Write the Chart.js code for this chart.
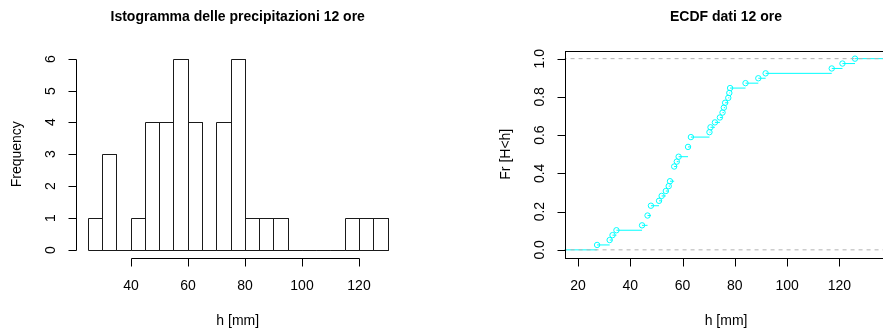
<!DOCTYPE html>
<html lang="it">
<head>
<meta charset="utf-8">
<title>Precipitazioni 12 ore</title>
<script src="https://cdn.jsdelivr.net/npm/chart.js@4.4.1/dist/chart.umd.min.js"></script>
<style>
  html, body { margin:0; padding:0; background:#fff; }
  #wrap { position:relative; width:883px; height:333px; overflow:hidden; background:#fff; }
  #wrap canvas { position:absolute; top:0; }
  #histCanvas { left:0; }
  #ecdfCanvas { left:441px; }
</style>
</head>
<body>
<div id="wrap">
  <canvas id="histCanvas" width="441" height="333"></canvas>
  <canvas id="ecdfCanvas" width="460" height="333"></canvas>
</div>
<script>
// ---------------- data ----------------
const histTitle = 'Istogramma delle precipitazioni 12 ore';
const ecdfTitle = 'ECDF dati 12 ore';
const xAxisTitle = 'h [mm]';
const histYTitle = 'Frequency';
const ecdfYTitle = 'Fr [H<h]';

// histogram class edges (mm) and frequencies
const binEdges = [25, 30, 35, 40, 45, 50, 55, 60, 65, 70, 75, 80, 85, 90, 95, 100, 105, 110, 115, 120, 125, 130];
const binCounts = [1, 3, 0, 1, 4, 4, 6, 4, 0, 4, 6, 1, 1, 1, 0, 0, 0, 0, 1, 1, 1];

// 12-hour rainfall observations (mm), read from the ECDF
const rain12h = [27.3, 32.1, 33.2, 34.7, 44.5, 46.6, 46.6, 47.9, 47.9, 51.0,
                 52.0, 53.6, 54.7, 55.2, 56.8, 56.8, 56.8, 57.8, 58.5, 62.1,
                 62.1, 63.2, 63.2, 70.3, 70.7, 72.4, 74.3, 75.3, 75.8, 76.3,
                 77.5, 77.9, 78.2, 84.1, 89.0, 91.8, 117.1, 121.2, 126.0];

// tick labels
const histXTicks = [40, 60, 80, 100, 120];
const histYTicks = [0, 1, 2, 3, 4, 5, 6];
const ecdfXTicks = [20, 40, 60, 80, 100, 120];
const ecdfYTicks = [0, 0.2, 0.4, 0.6, 0.8, 1.0];

// ---------------- derived (R-like) ----------------
const FONT = '"Liberation Sans", Arial, Helvetica, sans-serif';

// histogram ranges (R usr: data range +/- 4%)
const hLo = binEdges[0], hHi = binEdges[binEdges.length - 1];
const hPad = 0.04 * (hHi - hLo);
const hMaxC = Math.max(...binCounts);
const histOutline = [];
const histBars = [];
binCounts.forEach((c, i) => {
  const a = binEdges[i], b = binEdges[i + 1];
  histOutline.push({x: a, y: 0}, {x: a, y: c}, {x: b, y: c}, {x: b, y: 0}, {x: a, y: 0}, {x: b, y: null});
  histBars.push({x: (a + b) / 2, y: c});
});

// ECDF
const sorted = rain12h.slice().sort((p, q) => p - q);
const n = sorted.length;
const knots = [...new Set(sorted)];
const Fvals = knots.map(k => sorted.filter(v => v <= k).length / n);
const diffs = knots.slice(1).map((k, i) => k - knots[i]).sort((p, q) => p - q);
const medDiff = diffs[Math.floor(diffs.length / 2)];
const kLo = knots[0], kHi = knots[knots.length - 1];
const dr = Math.max(0.08 * (kHi - kLo), medDiff);
const xlimLo = kLo - dr, xlimHi = kHi + dr;
const ePad = 0.04 * (xlimHi - xlimLo);
const farLeft = xlimLo - 3 * dr, farRight = xlimHi + 3 * dr;

const ecdfSegs = [{x: farLeft, y: 0}, {x: kLo, y: 0}, {x: kLo, y: null}];
knots.forEach((k, i) => {
  const nx = i < knots.length - 1 ? knots[i + 1] : farRight;
  ecdfSegs.push({x: k, y: Fvals[i]}, {x: nx, y: Fvals[i]}, {x: nx, y: null});
});
const ecdfPts = knots.map((k, i) => ({x: k, y: Fvals[i]}));
const refLines = [{x: farLeft, y: 0}, {x: farRight, y: 0}, {x: farRight, y: null},
                  {x: farLeft, y: 1}, {x: farRight, y: 1}];

// ---------------- crisp 1px lines (half-pixel offset for dataset drawing) ----------------
const crispLines = {
  id: 'crispLines',
  beforeDatasetsDraw(chart) { chart.ctx.save(); chart.ctx.translate(0.5, 0.5); },
  afterDatasetsDraw(chart) { chart.ctx.restore(); }
};

// ---------------- R-style axes plugin ----------------
const rStyleAxes = {
  id: 'rStyleAxes',
  afterDraw(chart, args, o) {
    const ctx = chart.ctx;
    const a = chart.chartArea;
    const xs = chart.scales.x, ys = chart.scales.y;
    const crisp = v => Math.round(v) + 0.5;
    ctx.save();
    ctx.strokeStyle = '#000';
    ctx.fillStyle = '#000';
    ctx.lineWidth = 1;
    if (o.box) {
      ctx.strokeRect(crisp(a.left), crisp(a.top),
        Math.round(a.right) - Math.round(a.left), Math.round(a.bottom) - Math.round(a.top));
    }
    const yAx = crisp(a.bottom), xAx = crisp(a.left);
    const xp = o.xTicks.map(v => crisp(xs.getPixelForValue(v)));
    const yp = o.yTicks.map(v => crisp(ys.getPixelForValue(v)));
    ctx.beginPath();
    ctx.moveTo(xp[0], yAx); ctx.lineTo(xp[xp.length - 1], yAx);
    xp.forEach(p => { ctx.moveTo(p, yAx); ctx.lineTo(p, yAx + 8); });
    ctx.moveTo(xAx, yp[0]); ctx.lineTo(xAx, yp[yp.length - 1]);
    yp.forEach(p => { ctx.moveTo(xAx, p); ctx.lineTo(xAx - 8, p); });
    ctx.stroke();

    ctx.font = '14px ' + FONT;
    ctx.textAlign = 'center';
    ctx.textBaseline = 'alphabetic';
    o.xTicks.forEach(v => ctx.fillText(o.xFmt(v), xs.getPixelForValue(v), a.bottom + 32));
    o.yTicks.forEach(v => {
      ctx.save();
      ctx.translate(a.left - 21, ys.getPixelForValue(v));
      ctx.rotate(-Math.PI / 2);
      ctx.fillText(o.yFmt(v), 0, 0);
      ctx.restore();
    });
    ctx.fillText(o.xTitle, (a.left + a.right) / 2, a.bottom + 67);
    ctx.save();
    ctx.translate(a.left - 55, (a.top + a.bottom) / 2);
    ctx.rotate(-Math.PI / 2);
    ctx.fillText(o.yTitle, 0, 0);
    ctx.restore();

    ctx.font = 'bold 14px ' + FONT;
    ctx.fillText(o.title, (a.left + a.right) / 2, 21);
    ctx.restore();
  }
};

const common = {
  responsive: false,
  animation: false,
  devicePixelRatio: 1,
  events: [],
  plugins: { legend: { display: false }, tooltip: { enabled: false }, title: { display: false } }
};

// ---------------- histogram ----------------
new Chart(document.getElementById('histCanvas'), {
  type: 'bar',
  data: {
    datasets: [
      { type: 'line', data: histOutline, borderColor: '#1a1a1a', borderWidth: 1,
        pointRadius: 0, fill: false, tension: 0, spanGaps: false },
      { type: 'bar', data: histBars, backgroundColor: 'rgba(255,255,255,0)', borderWidth: 0,
        barPercentage: 1, categoryPercentage: 1 }
    ]
  },
  options: Object.assign({}, common, {
    layout: { padding: { left: 75.9, right: 41.5, top: 51, bottom: 75.5 } },
    scales: {
      x: { type: 'linear', display: false, offset: false, alignToPixels: true,
           min: hLo - hPad, max: hHi + hPad,
           afterBuildTicks: s => { s.ticks = histXTicks.map(v => ({value: v})); } },
      y: { type: 'linear', display: false, alignToPixels: true,
           min: -0.04 * hMaxC, max: hMaxC * 1.04,
           afterBuildTicks: s => { s.ticks = histYTicks.map(v => ({value: v})); } }
    },
    plugins: Object.assign({}, common.plugins, {
      rStyleAxes: { box: false, xTicks: histXTicks, yTicks: histYTicks,
        xFmt: v => String(v), yFmt: v => String(v),
        xTitle: xAxisTitle, yTitle: histYTitle, title: histTitle }
    })
  }),
  plugins: [crispLines, rStyleAxes]
});

// ---------------- ECDF ----------------
new Chart(document.getElementById('ecdfCanvas'), {
  type: 'scatter',
  data: {
    datasets: [
      { data: refLines, showLine: true, borderColor: '#B3B3B3', borderWidth: 1, borderDash: [4, 4],
        pointRadius: 0, fill: false, spanGaps: false },
      { data: ecdfPts, showLine: false, pointStyle: 'circle', pointRadius: 2.7,
        pointBorderWidth: 1, pointBorderColor: '#00FFFF', pointBackgroundColor: 'rgba(0,0,0,0)' },
      { data: ecdfSegs, showLine: true, borderColor: '#00FFFF', borderWidth: 1,
        pointRadius: 0, fill: false, spanGaps: false }
    ]
  },
  options: Object.assign({}, common, {
    layout: { padding: { left: 123.5, right: 13.4, top: 51, bottom: 75.5 } },
    scales: {
      x: { type: 'linear', display: false, min: xlimLo - ePad, max: xlimHi + ePad,
           afterBuildTicks: s => { s.ticks = ecdfXTicks.map(v => ({value: v})); } },
      y: { type: 'linear', display: false, min: -0.04, max: 1.04,
           afterBuildTicks: s => { s.ticks = ecdfYTicks.map(v => ({value: v})); } }
    },
    plugins: Object.assign({}, common.plugins, {
      rStyleAxes: { box: true, xTicks: ecdfXTicks, yTicks: ecdfYTicks,
        xFmt: v => String(v), yFmt: v => v.toFixed(1),
        xTitle: xAxisTitle, yTitle: ecdfYTitle, title: ecdfTitle }
    })
  }),
  plugins: [rStyleAxes]
});
</script>
</body>
</html>
